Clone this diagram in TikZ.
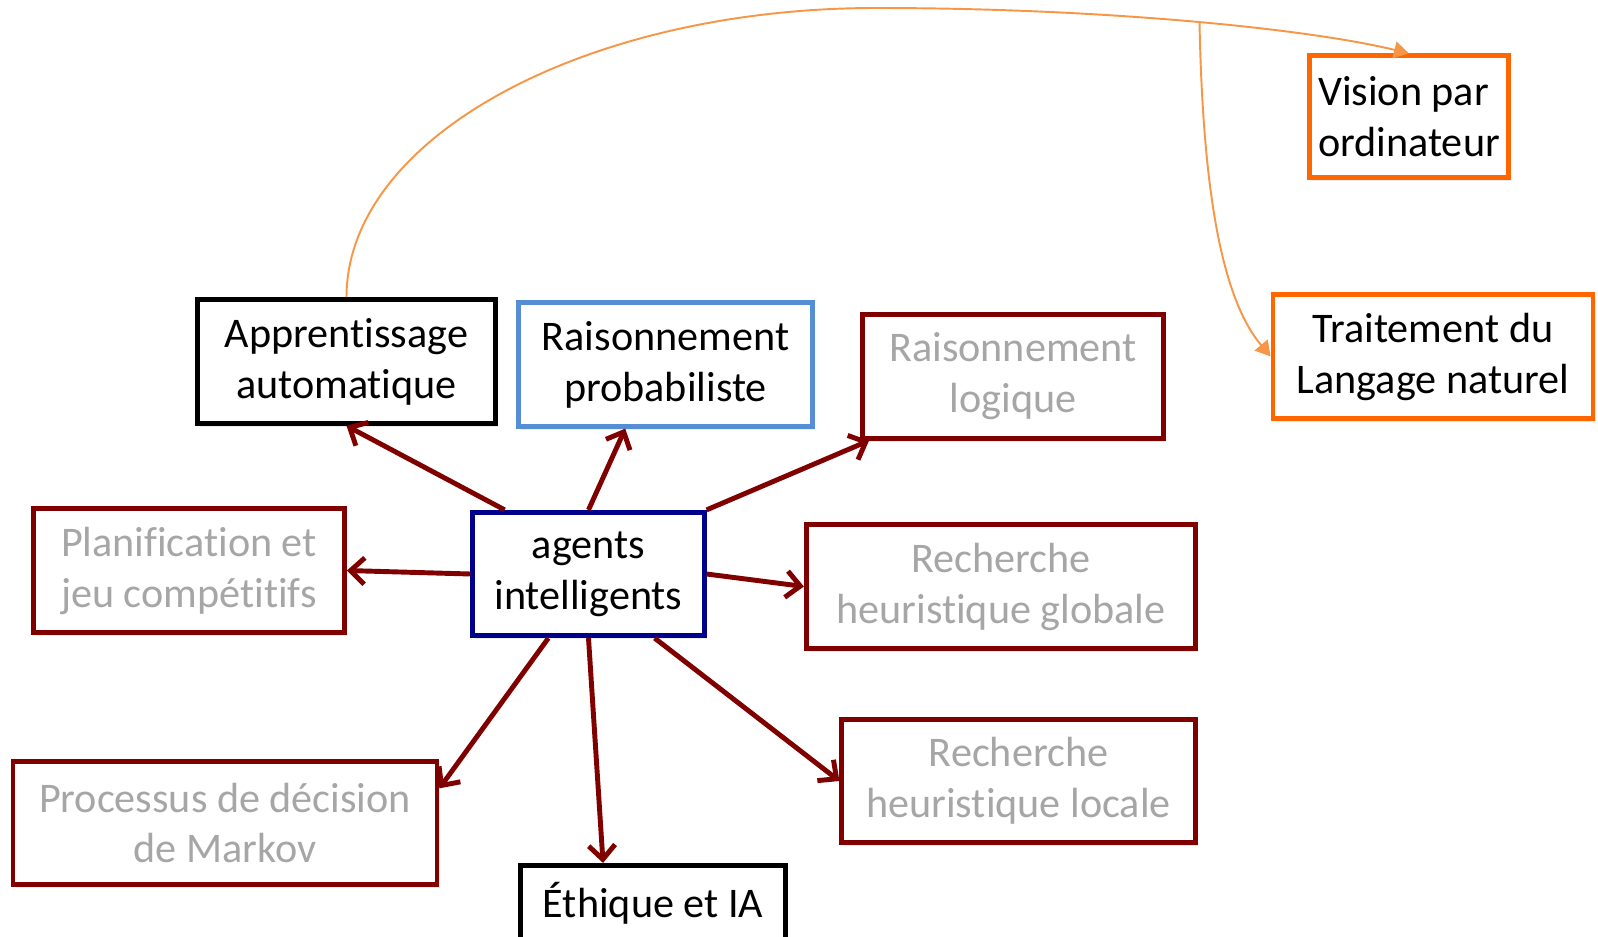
\documentclass[tikz,border=0pt]{standalone}
\usepackage{fontspec}
\setmainfont{Carlito}[Ligatures={NoCommon}]
\usepackage{tikz}
\usetikzlibrary{arrows.meta,calc,shadows}
\definecolor{darkred}{RGB}{128,0,0}
\definecolor{navyblue}{RGB}{0,0,139}
\definecolor{skyblue}{RGB}{85,142,213}
\definecolor{vividorange}{RGB}{255,102,0}
\definecolor{softorange}{RGB}{247,150,70}
\definecolor{textgray}{RGB}{166,166,166}

\begin{document}
\begin{tikzpicture}[
  box/.style={rectangle,draw,fill=white,line width=2.7pt,inner sep=2pt,
    minimum height=2.47cm,align=center,font=\fontsize{24}{29}\selectfont,
    drop shadow={shadow xshift=0.05cm,shadow yshift=-0.07cm,opacity=0.15}},
  blackbox/.style={box,draw=black,line width=2.9pt},
  bluebox/.style={box,draw=skyblue},
  navybox/.style={box,draw=navyblue},
  redbox/.style={box,draw=darkred,text=textgray},
  orangebox/.style={box,draw=vividorange},
  arrow/.style={-{Straight Barb[length=8pt,width=15pt]},color=darkred,line width=2.8pt},
  link/.style={-{Triangle[length=8.5pt,width=9.5pt]},color=softorange,line width=1.1pt}
]
  \useasboundingbox (0,0) rectangle (31.96,18.72);

  \node[navybox, minimum width=4.63cm] (agents) at (11.77,7.24) {agents\\intelligents};
  \node[blackbox, minimum width=5.95cm] (appr) at (6.93,11.49) {Apprentissage\\automatique};
  \node[bluebox, minimum width=5.87cm] (proba) at (13.31,11.43) {Raisonnement\\probabiliste};
  \node[redbox, minimum width=6.03cm] (logique) at (20.26,11.19) {Raisonnement\\logique};
  \node[orangebox, minimum width=3.98cm, minimum height=2.43cm, align=left] (vision) at (28.18,16.39) {Vision par\\ordinateur};
  \node[orangebox, minimum width=6.40cm] (langage) at (28.66,11.59) {Traitement du\\Langage naturel};
  \node[redbox, minimum width=6.22cm] (planif) at (3.78,7.31) {Planification et\\jeu compétitifs};
  \node[redbox, minimum width=7.79cm] (globale) at (20.02,6.99) {Recherche\\heuristique globale};
  \node[redbox, minimum width=7.07cm] (locale) at (20.37,3.10) {Recherche\\heuristique locale};
  \node[redbox, minimum width=8.48cm] (markov) at (4.50,2.26) {Processus de décision\\de Markov};
  \node[blackbox, minimum width=5.30cm, minimum height=1.50cm] (ethique) at (13.06,0.66) {Éthique et IA};

  \coordinate (peak) at (17.52,18.56);
  \coordinate (split) at (23.99,18.27);

  % fleches depuis le noeud central
  \draw[arrow] ($(agents.north west)!0.145!(agents.north east)$) -- (appr.south);
  \draw[arrow] (agents.north) -- ($(proba.south west)!0.365!(proba.south east)$);
  \draw[arrow] (agents.north east) -- ($(logique.south west)!0.03!(logique.south east)$);
  \draw[arrow] (agents.west) -- (planif.east);
  \draw[arrow] (agents.east) -- (globale.west);
  \draw[arrow] ($(agents.south west)!0.33!(agents.south east)$) -- ($(markov.north east)!0.23!(markov.south east)$);
  \draw[arrow] (agents.south) -- ($(ethique.north west)!0.315!(ethique.north east)$);
  \draw[arrow] ($(agents.south west)!0.78!(agents.south east)$) -- (locale.west);

  % liens orange
  \draw[link] (appr.north) .. controls +(0,3.2) and +(-5.8,0) .. (peak)
    .. controls +(4.48,0) and +(-2.06,0.5) .. (vision.north);
  \draw[link] (split) .. controls +(0.07,-3.55) and +(-0.94,1.12) .. (langage.west);
\end{tikzpicture}
\end{document}
